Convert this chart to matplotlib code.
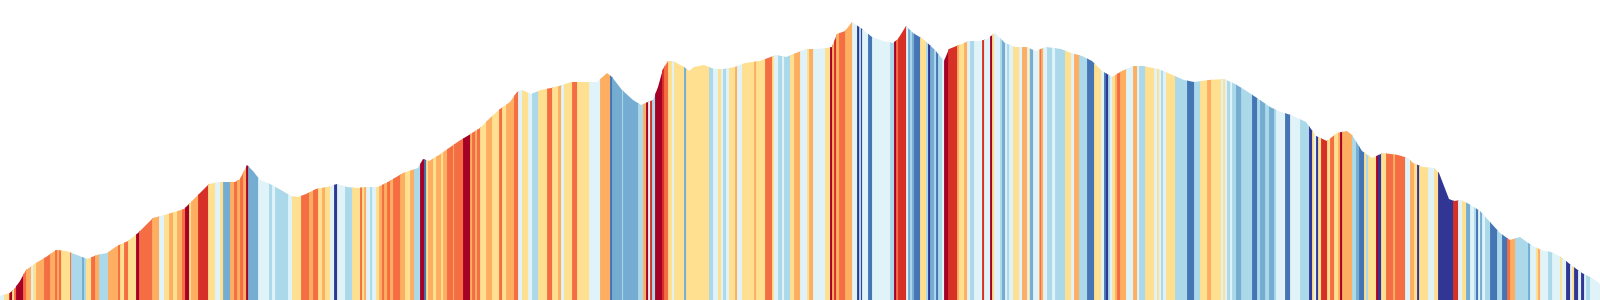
import matplotlib
matplotlib.use("Agg")
from matplotlib import pyplot as plt
from matplotlib.patches import Polygon
import numpy as np

# route profile: distance along route and elevation
dist = [0, 10, 15, 20, 26, 36, 46, 56, 66, 77, 87, 97, 107, 117, 128, 138, 153, 168, 184, 194,
        204, 209, 219, 235, 240, 247, 253, 260, 270, 281, 291, 298, 306, 316, 327, 337, 347, 357,
        367, 378, 388, 403, 418, 423, 429, 439, 449, 459, 469, 480, 490, 500, 510, 517, 522, 531,
        541, 551, 559, 571, 587, 597, 607, 612, 622, 633, 641, 648, 653, 658, 663, 668, 673, 684,
        689, 694, 704, 714, 724, 735, 745, 760, 776, 786, 796, 806, 816, 827, 832, 837, 845, 852,
        862, 872, 883, 893, 898, 906, 913, 923, 934, 944, 949, 959, 969, 980, 987, 995, 1005,
        1015, 1026, 1036, 1046, 1061, 1071, 1082, 1092, 1102, 1112, 1122, 1133, 1143, 1158, 1168,
        1184, 1194, 1209, 1224, 1235, 1245, 1260, 1270, 1281, 1291, 1306, 1316, 1327, 1337, 1347,
        1352, 1362, 1372, 1383, 1398, 1408, 1413, 1423, 1434, 1439, 1449, 1454, 1461, 1469, 1480,
        1490, 1500, 1510, 1520, 1531, 1541, 1551, 1561, 1571, 1582, 1592, 1600]
elev = [4, 7, 12, 19, 30, 37, 43, 50, 49, 45, 41, 45, 47, 54, 59, 67, 82, 86, 91, 101,
        111, 116, 118, 118, 121, 135, 129, 120, 116, 110, 104, 103, 106, 111, 113, 116, 113, 112,
        113, 113, 118, 127, 132, 141, 139, 145, 152, 159, 165, 172, 182, 191, 198, 208, 210, 206,
        210, 212, 214, 218, 218, 218, 227, 223, 210, 200, 195, 198, 200, 213, 231, 239, 239, 233,
        229, 233, 235, 231, 231, 233, 237, 239, 245, 243, 247, 251, 251, 252, 253, 266, 269, 278,
        271, 263, 259, 257, 261, 274, 267, 261, 251, 239, 251, 255, 259, 259, 261, 267, 257,
        253, 253, 249, 253, 251, 247, 244, 239, 229, 223, 229, 234, 234, 231, 227,
        220, 218, 220, 221, 216, 210, 200, 193, 188, 185, 178, 164, 159, 167, 169,
        165, 149, 142, 147, 145, 142, 137, 133, 132, 127, 101, 99, 100, 96, 89,
        78, 67, 60, 63, 55, 50, 48, 43, 35, 27, 22, 16]

# stripes: start of each run and its temperature class (0 = coldest, 9 = warmest)
stripe_start = [0, 4, 9, 10, 12, 14, 16, 23, 26, 31, 33, 36, 44, 50, 55, 57, 59, 61, 70, 71,
                82, 84, 86, 91, 95, 99, 108, 118, 120, 124, 128, 136, 139, 152, 159, 164, 169, 173,
                177, 182, 185, 189, 191, 198, 208, 215, 220, 223, 230, 234, 237, 240, 243, 246,
                248, 258, 269, 272, 275, 288, 292, 301, 309, 313, 318, 322, 325, 330, 334, 337,
                345, 352, 360, 362, 364, 366, 370, 372, 376, 379, 382, 384, 387, 390, 393, 400,
                405, 410, 414, 420, 424, 426, 428, 433, 436, 441, 443, 447, 453, 454, 463, 470,
                472, 475, 477, 480, 486, 492, 499, 502, 506, 514, 518, 522, 528, 532, 538, 547,
                552, 558, 561, 564, 572, 577, 589, 600, 610, 612, 622, 623, 638, 643, 646, 648,
                650, 652, 655, 662, 664, 668, 672, 674, 684, 686, 709, 713, 718, 721, 723, 726,
                729, 735, 737, 742, 754, 756, 765, 772, 774, 778, 782, 784, 790, 794, 800, 807,
                809, 813, 825, 830, 832, 834, 836, 839, 845, 852, 857, 859, 861, 862, 868, 872,
                890, 894, 896, 898, 906, 908, 910, 912, 914, 920, 926, 928, 930, 934, 936, 938,
                942, 944, 948, 957, 959, 964, 967, 970, 974, 982, 984, 990, 992, 994, 1000, 1002,
                1005, 1007, 1009, 1013, 1019, 1022, 1027, 1029, 1030, 1033, 1039, 1040, 1041,
                1043, 1047, 1052, 1055, 1065, 1071, 1074, 1079, 1087, 1094, 1101, 1104, 1106,
                1108, 1110, 1112, 1115, 1117, 1120, 1126, 1133, 1137, 1139, 1145, 1154, 1157,
                1159, 1161, 1163, 1166, 1175, 1187, 1194, 1200, 1207, 1211, 1221, 1223, 1225,
                1227, 1230, 1232, 1236, 1241, 1252, 1257, 1260, 1265, 1269, 1274, 1276, 1285,
                1290, 1300, 1309, 1312, 1314, 1316, 1318, 1321, 1327, 1330, 1334, 1338, 1340,
                1342, 1352, 1356, 1359, 1364, 1366, 1368, 1376, 1378, 1381, 1386, 1393, 1395,
                1405, 1410, 1414, 1417, 1419, 1428, 1434, 1438, 1453, 1458, 1462, 1466, 1470,
                1474, 1476, 1478, 1480, 1482, 1485, 1490, 1497, 1502, 1507, 1510, 1515, 1528,
                1530, 1536, 1538, 1540, 1548, 1552, 1560, 1562, 1566, 1570, 1572, 1574, 1578,
                1581, 1584, 1586, 1590]
stripe_class = [4, 5, 8, 9, 5, 7, 9, 7, 6, 4, 5, 6, 7, 6, 7, 6, 7, 5, 7, 3,
                2, 3, 5, 7, 6, 3, 6, 7, 5, 7, 5, 9, 7, 6, 4, 5, 6, 5,
                6, 7, 9, 5, 6, 8, 5, 4, 5, 2, 6, 7, 6, 7, 6, 9,
                2, 4, 3, 4, 3, 4, 5, 7, 6, 7, 5, 6, 5, 4, 0, 4,
                3, 5, 7, 5, 6, 4, 3, 4, 5, 6, 7, 6, 7, 6, 7, 6,
                5, 6, 3, 9, 1, 5, 6, 5, 6, 5, 6, 7, 6, 7, 9, 6,
                7, 6, 7, 5, 6, 5, 7, 5, 6, 7, 4, 5, 4, 3, 5, 7,
                5, 6, 4, 5, 7, 5, 4, 6, 1, 2, 3, 2, 3, 6, 9, 4,
                8, 3, 9, 8, 7, 5, 4, 5, 2, 5, 3, 4, 5, 4, 3, 4,
                5, 6, 4, 5, 6, 5, 7, 5, 4, 3, 4, 3, 5, 6, 4, 5,
                6, 4, 5, 9, 6, 8, 6, 7, 6, 4, 0, 3, 0, 4, 1, 4,
                3, 9, 7, 8, 4, 2, 3, 2, 1, 5, 3, 0, 2, 3, 1, 3,
                4, 9, 8, 6, 5, 6, 4, 3, 4, 8, 4, 9, 5, 4, 3, 2,
                4, 3, 4, 5, 4, 6, 4, 5, 2, 4, 6, 7, 6,
                4, 3, 4, 3, 5, 4, 6, 3, 1, 5, 4, 1, 0,
                3, 4, 5, 6, 7, 6, 4, 6, 4, 3, 5, 4, 5,
                4, 3, 4, 5, 3, 1, 3, 5, 6, 5, 4, 5, 4,
                3, 4, 3, 2, 3, 1, 3, 2, 3, 2, 3, 4, 1,
                4, 3, 0, 5, 4, 0, 5, 8, 5, 7, 5, 6, 9,
                6, 3, 2, 1, 5, 3, 5, 9, 0, 5, 7, 6, 7,
                4, 6, 5, 0, 5, 4, 5, 0, 8, 4, 5, 2, 4,
                3, 1, 4, 2, 4, 3, 1, 3, 1, 7, 6, 3, 2,
                4, 5, 6, 4, 3, 4, 5, 4, 0, 4, 5, 0, 4,
                0, 4, 3, 4]
route_end = 1600

palette = ['#313695', '#4575b4', '#74add1', '#abd9e9', '#e0f3f8',
           '#fee090', '#fdae61', '#f46d43', '#d73027', '#a50026']

fig = plt.figure(figsize=(16, 3), dpi=100)
ax = fig.add_axes([0, 0, 1, 1])

starts = np.array(stripe_start)
widths = np.diff(np.append(starts, route_end))
cols = [palette[c] for c in stripe_class]
# same-colour edges hide the hairline seams between neighbouring stripes
bars = ax.bar(starts, 300, width=widths, align='edge', color=cols,
              edgecolor=cols, linewidth=0.6)

# clip stripes to the area under the profile
poly = Polygon(np.column_stack([[dist[0]] + dist + [dist[-1]], [0] + elev + [0]]),
               closed=True, transform=ax.transData, facecolor='none', edgecolor='none')
ax.add_patch(poly)
for b in bars:
    b.set_clip_path(poly)

ax.set_xlim(0, route_end)
ax.set_ylim(0, 300)
ax.axis('off')

fig.savefig('out.png', dpi=100)
